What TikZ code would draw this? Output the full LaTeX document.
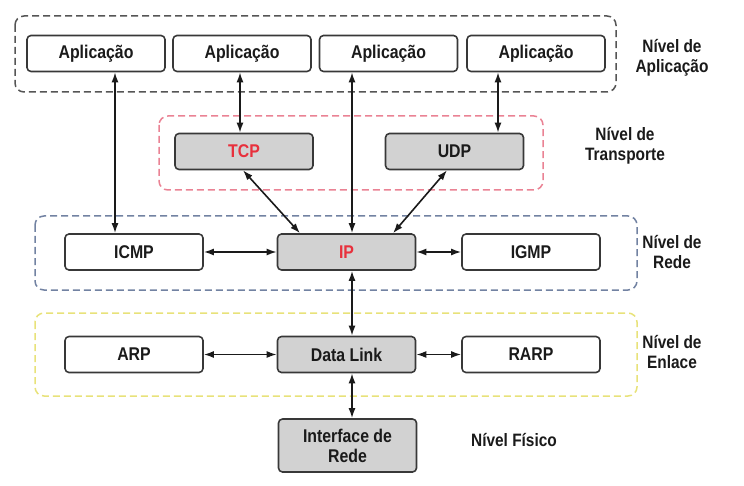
\documentclass[tikz,border=0pt]{standalone}
\usepackage{fontspec}
\setmainfont{Liberation Sans}[FakeStretch=0.86]
\usepackage{tikz}
\usetikzlibrary{arrows.meta}

\definecolor{borda}{HTML}{383838}
\definecolor{cinza}{HTML}{D2D2D2}
\definecolor{texto}{HTML}{1A1A1A}
\definecolor{vermelho}{HTML}{E8303C}
\definecolor{camapp}{HTML}{555555}
\definecolor{camtransp}{HTML}{EA8294}
\definecolor{camrede}{HTML}{7282A2}
\definecolor{camenlace}{HTML}{E8E27A}

\tikzset{
  caixa/.style={draw=borda, line width=1.6bp, rounded corners=4bp, fill=white,
    minimum width=138bp, minimum height=36bp, inner sep=0pt,
    font=\fontsize{18.5}{20}\selectfont\bfseries, text=texto, align=center},
  caixacinza/.style={caixa, fill=cinza},
  camada/.style={line width=1.5bp, rounded corners=9bp, dash pattern=on 7bp off 4bp},
  rotulo/.style={font=\fontsize{18}{20}\selectfont\bfseries, text=texto, align=center}
}

\begin{document}
\begin{tikzpicture}[>={Latex[length=10bp,width=7bp]}, x=1bp, y=-1bp, line join=bevel, line width=1.6bp]
\useasboundingbox (0,0) rectangle (744,486);
%% camadas
\draw [camada, draw=camapp] (15,16) rectangle (616,92);
\draw [camada, draw=camtransp] (159,116) rectangle (543,190);
\draw [camada, draw=camrede] (35,216) rectangle (637,290);
\draw [camada, draw=camenlace] (35,313) rectangle (637,396);
%%
\node (app1) at (96,53.5) [caixa] {Aplicação};
  \node (app2) at (242,53.5) [caixa] {Aplicação};
  \node (app3) at (388.5,53.5) [caixa] {Aplicação};
  \node (app4) at (536,53.5) [caixa] {Aplicação};
  \node (tcp) at (244,151.5) [caixacinza, text=vermelho] {TCP};
  \node (udp) at (454.5,151.5) [caixacinza] {UDP};
  \node (icmp) at (134,252) [caixa] {ICMP};
  \node (ip) at (346.5,252) [caixacinza, text=vermelho] {IP};
  \node (igmp) at (531,252) [caixa] {IGMP};
  \node (arp) at (134,354.5) [caixa] {ARP};
  \node (dl) at (346.5,354.5) [caixacinza] {Data Link};
  \node (rarp) at (531,354.5) [caixa] {RARP};
  \node (iface) at (347.5,445.5) [caixacinza, minimum height=53bp] {Interface de\\Rede};
%
  \node (napp) at (672,58) [rotulo] {Nível de\\Aplicação};
  \node (ntransp) at (625,146) [rotulo] {Nível de\\Transporte};
  \node (nrede) at (672,252) [rotulo] {Nível de\\Rede};
  \node (nenlace) at (672,352) [rotulo] {Nível de\\Enlace};
  \node (nfisico) at (514,440) [rotulo] {Nível Físico};
%
  \draw [<->, draw=texto] ([xshift=19bp]app1.south) -- ([xshift=-19bp]icmp.north);
  \draw [<->, draw=texto] ([xshift=-2bp]app2.south) -- ([xshift=-4bp]tcp.north);
  \draw [<->, draw=texto] ([xshift=-36.5bp]app3.south) -- ([xshift=5.5bp]ip.north);
  \draw [<->, draw=texto] ([xshift=-38bp]app4.south) -- ([xshift=43.5bp]udp.north);
  \draw [<->, draw=texto] ([xshift=-1bp]tcp.south) -- ([xshift=-46.5bp]ip.north);
  \draw [<->, draw=texto] ([xshift=-7.5bp]udp.south) -- ([xshift=46.5bp]ip.north);
  \draw [<->, draw=texto] (icmp) -- (ip);
  \draw [<->, draw=texto] (ip) -- (igmp);
  \draw [<->, draw=texto] ([xshift=5.5bp]ip.south) -- ([xshift=5.5bp]dl.north);
  \draw [<->, draw=texto] (arp) -- (dl);
  \draw [<->, draw=texto] (dl) -- (rarp);
  \draw [<->, draw=texto] ([xshift=5.5bp]dl.south) -- ([xshift=4.5bp]iface.north);
%
\end{tikzpicture}
\end{document}
